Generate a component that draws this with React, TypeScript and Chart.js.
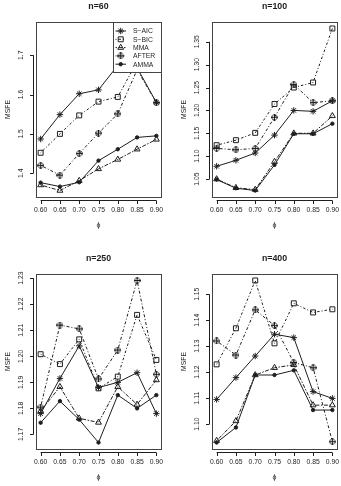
import React, { useEffect, useRef } from 'react';
import { Chart, registerables } from 'chart.js';
import { drawPoint } from 'chart.js/helpers';

Chart.register(...registerables);

// Autoregressive coefficient on the horizontal axis
const phi = [0.6, 0.65, 0.7, 0.75, 0.8, 0.85, 0.9];
const phiLabels = ['0.60', '0.65', '0.70', '0.75', '0.80', '0.85', '0.90'];

// MSFE by method, n = 60
const n60SAIC = [1.487, 1.549, 1.602, 1.612, 1.674, 1.668, 1.580];
const n60SBIC = [1.452, 1.500, 1.547, 1.582, 1.594, 1.684, 1.768];
const n60MMA = [1.370, 1.356, 1.381, 1.411, 1.435, 1.461, 1.486];
const n60AFTER = [1.420, 1.395, 1.450, 1.502, 1.551, 1.663, 1.579];
const n60AMMA = [1.376, 1.366, 1.377, 1.432, 1.461, 1.491, 1.495];

// MSFE by method, n = 100
const n100SAIC = [1.078, 1.091, 1.107, 1.146, 1.200, 1.198, 1.221];
const n100SBIC = [1.124, 1.135, 1.151, 1.214, 1.250, 1.261, 1.379];
const n100MMA = [1.050, 1.031, 1.027, 1.088, 1.150, 1.150, 1.188];
const n100AFTER = [1.117, 1.114, 1.117, 1.185, 1.257, 1.217, 1.221];
const n100AMMA = [1.049, 1.030, 1.025, 1.081, 1.149, 1.149, 1.171];

// MSFE by method, n = 250
const n250SAIC = [1.178, 1.1915, 1.204, 1.188, 1.190, 1.1937, 1.178];
const n250SBIC = [1.2008, 1.197, 1.2065, 1.1877, 1.1922, 1.2159, 1.1986];
const n250MMA = [1.179, 1.1883, 1.1762, 1.1746, 1.1883, 1.1815, 1.1909];
const n250AFTER = [1.1805, 1.212, 1.2105, 1.1913, 1.2024, 1.2291, 1.1931];
const n250AMMA = [1.1745, 1.1828, 1.1757, 1.1669, 1.1851, 1.180, 1.1851];

// MSFE by method, n = 400
const n400SAIC = [1.1095, 1.1179, 1.1262, 1.1346, 1.1333, 1.1125, 1.1099];
const n400SBIC = [1.123, 1.1369, 1.1553, 1.1311, 1.1465, 1.143, 1.1442];
const n400MMA = [1.0936, 1.1012, 1.1189, 1.1217, 1.1228, 1.1073, 1.1073];
const n400AFTER = [1.132, 1.1266, 1.144, 1.1379, 1.1237, 1.1217, 1.0932];
const n400AMMA = [1.0929, 1.0987, 1.1189, 1.1189, 1.1207, 1.1054, 1.1054];

// Y tick values per panel
const n60Ticks = [1.4, 1.5, 1.6, 1.7];
const n100Ticks = [1.05, 1.1, 1.15, 1.2, 1.25, 1.3, 1.35];
const n250Ticks = [1.17, 1.18, 1.19, 1.2, 1.21, 1.22, 1.23];
const n400Ticks = [1.1, 1.11, 1.12, 1.13, 1.14, 1.15];

const methodNames = ['S\u2212AIC', 'S\u2212BIC', 'MMA', 'AFTER', 'AMMA'];

const INK = '#1e1e1e';
const FRAME = '#444';
const FONT = '"Liberation Sans", Arial, Helvetica, sans-serif';
const CW = 176;
const CH = 252;

// Diamond with a plus inside, used for AFTER
function diamondPlus(): HTMLCanvasElement {
  const c = document.createElement('canvas');
  c.width = 7;
  c.height = 7;
  const g = c.getContext('2d')!;
  g.strokeStyle = INK;
  g.lineWidth = 1;
  g.beginPath();
  g.moveTo(3.5, 0);
  g.lineTo(7, 3.5);
  g.lineTo(3.5, 7);
  g.lineTo(0, 3.5);
  g.closePath();
  g.moveTo(3.5, 0);
  g.lineTo(3.5, 7);
  g.moveTo(0, 3.5);
  g.lineTo(7, 3.5);
  g.stroke();
  return c;
}

type MethodStyle = {
  pointStyle: any;
  radius: number;
  fill: string;
  dash: number[];
};

function methodStyles(): MethodStyle[] {
  return [
    { pointStyle: 'star', radius: 3.2, fill: 'rgba(0,0,0,0)', dash: [] },
    { pointStyle: 'rect', radius: 3.5, fill: 'rgba(0,0,0,0)', dash: [1, 2, 2.5, 2] },
    { pointStyle: 'triangle', radius: 3.4, fill: 'rgba(0,0,0,0)', dash: [1.5, 1.5, 4, 1.5] },
    { pointStyle: diamondPlus(), radius: 3.5, fill: 'rgba(0,0,0,0)', dash: [1, 2, 3, 2] },
    { pointStyle: 'circle', radius: 1.7, fill: INK, dash: [] },
  ];
}

type PanelProps = {
  title: string;
  series: number[][];
  ticks: number[];
  decimals: number;
  legend?: boolean;
  left: number;
  top: number;
};

function Panel({ title, series, ticks, decimals, legend, left, top }: PanelProps) {
  const ref = useRef<HTMLCanvasElement | null>(null);

  useEffect(() => {
    const canvas = ref.current;
    if (!canvas) return;
    const styles = methodStyles();

    const all = series.flat();
    const lo = Math.min(...all);
    const hi = Math.max(...all);
    const yPad = 0.04 * (hi - lo);
    const xPad = 0.04 * (phi[phi.length - 1] - phi[0]);

    const frame = {
      id: 'rFrame',
      afterDatasetsDraw(chart: any) {
        if (!legend) return;
        const { ctx, chartArea: a } = chart;
        const lx = Math.round(a.right) - 47.5;
        const ty = Math.round(a.top) + 0.5;
        const w = Math.round(a.right) + 0.5 - lx;
        ctx.save();
        ctx.fillStyle = '#fff';
        ctx.fillRect(lx, ty, w, 50);
        ctx.strokeStyle = FRAME;
        ctx.lineWidth = 1;
        ctx.strokeRect(lx, ty, w, 50);
        ctx.font = `6.8px ${FONT}`;
        ctx.textBaseline = 'middle';
        ctx.textAlign = 'left';
        methodNames.forEach((name, i) => {
          const ry = ty + 8.5 + i * 8.3;
          const s = styles[i];
          ctx.strokeStyle = INK;
          ctx.lineWidth = 1;
          ctx.setLineDash(s.dash);
          ctx.beginPath();
          ctx.moveTo(lx + 2, ry);
          ctx.lineTo(lx + 12.5, ry);
          ctx.stroke();
          ctx.setLineDash([]);
          ctx.fillStyle = s.fill;
          drawPoint(ctx, { pointStyle: s.pointStyle, radius: s.radius, borderWidth: 1, rotation: 0 } as any, lx + 7.2, ry);
          ctx.fillStyle = INK;
          ctx.fillText(name, lx + 19.5, ry + 0.5);
        });
        ctx.restore();
      },
      afterDraw(chart: any) {
        const { ctx, chartArea: a, scales } = chart;
        const xs = scales.x;
        const ys = scales.y;
        const L = Math.round(a.left);
        const T = Math.round(a.top);
        const R = Math.round(a.right);
        const B = Math.round(a.bottom);
        ctx.save();
        ctx.strokeStyle = FRAME;
        ctx.lineWidth = 1;
        ctx.strokeRect(L + 0.5, T + 0.5, R - L, B - T);

        // bottom axis
        const ay = B + 3.5;
        ctx.strokeStyle = INK;
        ctx.beginPath();
        ctx.moveTo(xs.getPixelForValue(phi[0]), ay);
        ctx.lineTo(xs.getPixelForValue(phi[phi.length - 1]), ay);
        phi.forEach((v) => {
          const px = Math.round(xs.getPixelForValue(v)) + 0.5;
          ctx.moveTo(px, ay);
          ctx.lineTo(px, ay + 3.5);
        });
        ctx.stroke();

        // left axis
        const ax = L - 2.5;
        ctx.beginPath();
        ctx.moveTo(ax, ys.getPixelForValue(ticks[0]));
        ctx.lineTo(ax, ys.getPixelForValue(ticks[ticks.length - 1]));
        ticks.forEach((v) => {
          const py = Math.round(ys.getPixelForValue(v)) + 0.5;
          ctx.moveTo(ax, py);
          ctx.lineTo(ax - 3.5, py);
        });
        ctx.stroke();

        ctx.fillStyle = INK;
        ctx.font = `6.8px ${FONT}`;
        ctx.textAlign = 'center';
        ctx.textBaseline = 'middle';
        phi.forEach((v, i) => {
          ctx.fillText(phiLabels[i], xs.getPixelForValue(v), B + 13);
        });
        ticks.forEach((v) => {
          ctx.save();
          ctx.translate(L - 15, ys.getPixelForValue(v));
          ctx.rotate(-Math.PI / 2);
          ctx.fillText(v.toFixed(decimals), 0, 0);
          ctx.restore();
        });

        // axis titles
        const cx = (L + R) / 2;
        ctx.save();
        ctx.translate(8.5, (T + B) / 2);
        ctx.rotate(-Math.PI / 2);
        ctx.fillText('MSFE', 0, 0);
        ctx.restore();
        ctx.font = `7px ${FONT}`;
        ctx.fillText('\u03d5', cx, B + 28);

        ctx.font = `bold 8.8px ${FONT}`;
        ctx.fillText(title, cx, 6.5);
        ctx.restore();
      },
    };

    const chart = new Chart(canvas, {
      type: 'line',
      data: {
        datasets: series.map((vals, i) => ({
          label: methodNames[i],
          data: vals.map((v, j) => ({ x: phi[j], y: v })),
          borderColor: INK,
          borderWidth: 1,
          borderDash: styles[i].dash,
          pointStyle: styles[i].pointStyle,
          pointRadius: styles[i].radius,
          pointBorderColor: INK,
          pointBackgroundColor: styles[i].fill,
          pointBorderWidth: 1,
          fill: false,
          tension: 0,
        })),
      },
      options: {
        responsive: false,
        animation: false,
        devicePixelRatio: 1,
        events: [],
        layout: { padding: { left: 36, top: 22, right: 15, bottom: 55 } },
        scales: {
          x: { type: 'linear', display: false, min: phi[0] - xPad, max: phi[phi.length - 1] + xPad },
          y: { type: 'linear', display: false, min: lo - yPad, max: hi + yPad },
        },
        plugins: {
          legend: { display: false },
          tooltip: { enabled: false },
          title: { display: false },
        },
      },
      plugins: [frame],
    });

    return () => chart.destroy();
  }, [title, series, ticks, decimals, legend]);

  return (
    <canvas
      ref={ref}
      width={CW}
      height={CH}
      style={{ position: 'absolute', left, top, width: CW, height: CH }}
    />
  );
}

const panels: PanelProps[] = [
  { title: 'n=60', series: [n60SAIC, n60SBIC, n60MMA, n60AFTER, n60AMMA], ticks: n60Ticks, decimals: 1, legend: true, left: 0, top: 0 },
  { title: 'n=100', series: [n100SAIC, n100SBIC, n100MMA, n100AFTER, n100AMMA], ticks: n100Ticks, decimals: 2, left: 176, top: 0 },
  { title: 'n=250', series: [n250SAIC, n250SBIC, n250MMA, n250AFTER, n250AMMA], ticks: n250Ticks, decimals: 2, left: 0, top: 252 },
  { title: 'n=400', series: [n400SAIC, n400SBIC, n400MMA, n400AFTER, n400AMMA], ticks: n400Ticks, decimals: 2, left: 176, top: 252 },
];

export default function App() {
  return (
    <div
      style={{
        position: 'absolute',
        left: 0,
        top: 0,
        width: 341,
        height: 486,
        overflow: 'hidden',
        background: '#fff',
      }}
    >
      {panels.map((p) => (
        <Panel key={p.title} {...p} />
      ))}
    </div>
  );
}
